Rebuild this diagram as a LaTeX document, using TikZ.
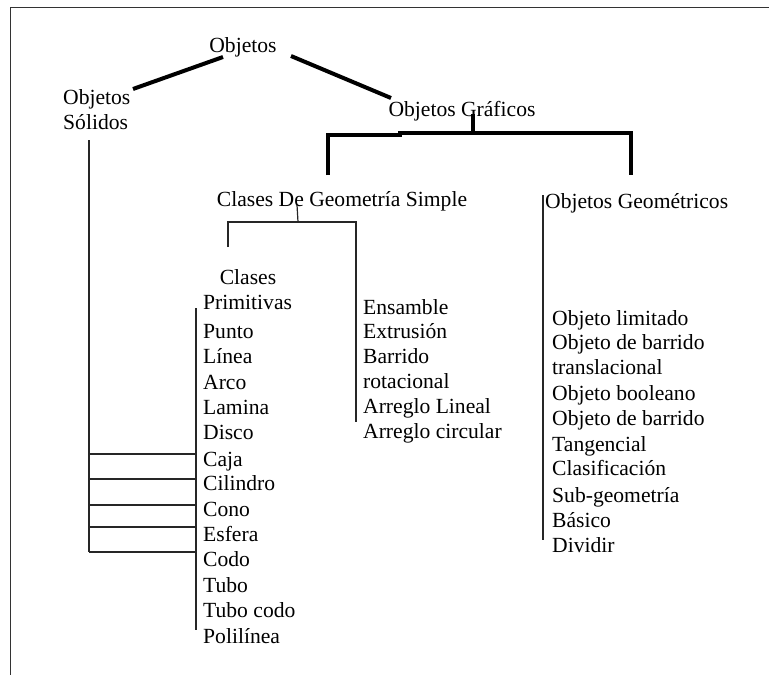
\documentclass[tikz,border=0pt]{standalone}
\usepackage{fontspec}
\setmainfont{Liberation Serif}
\begin{document}
\begin{tikzpicture}[x=1pt,y=-1pt,
  lbl/.style={inner sep=0pt,anchor=base,font=\fontsize{21.6}{25}\selectfont},
  item/.style={lbl,anchor=base west},
  heavy/.style={line width=4pt,line cap=butt,line join=miter},
  thin/.style={line width=1.2pt,draw=black!85}]
\useasboundingbox (0,0) rectangle (769,675);
% partial frame (top and left edges)
\draw[line width=1pt,black!80] (10,675) -- (10,7) -- (769,7);

% headings
\node[lbl] (obj) at (243,52) {Objetos};
\node[item,align=left] (sol) at (63,129.5) {Objetos\\Sólidos};
\node[lbl] (graf) at (462,116.5) {Objetos Gráficos};
\node[lbl] (cgs) at (342,206.5) {Clases De Geometría Simple};
\node[item] (geo) at (545,208.5) {Objetos Geométricos};

% heavy links from the root
\coordinate (r1) at (223,57);
\coordinate (r2) at (133,89);
\coordinate (r3) at (291,56);
\coordinate (r4) at (391,98);
\draw[heavy] (r1) -- (r2);
\draw[heavy] (r3) -- (r4);

% heavy bracket below Objetos Gráficos
\coordinate (g0) at (473,114);
\coordinate (gL) at (328,175);
\coordinate (gR) at (631,175);
\draw[heavy] (g0) -- (473,133);
\draw[heavy] (gL) -- (328,135) -- (400,135) -- (400,133) -- (631,133) -- (gR);

% bracket below Clases De Geometría Simple
\coordinate (c0) at (297,205);
\coordinate (cL) at (228,247);
\coordinate (cR) at (356,422);
\draw[thin] (c0) -- (298,222);
\draw[thin] (cL) -- (228,222) -- (356,222) -- (cR);

% Clases Primitivas
\node[lbl] (cp1) at (248,284.5) {Clases};
\node[item] (cp2) at (203,309.5) {Primitivas};
\node[item] (p1) at (203,338.5) {Punto};
\node[item] (p2) at (203,363.5) {Línea};
\node[item] (p3) at (203,389.5) {Arco};
\node[item] (p4) at (203,414.5) {Lamina};
\node[item] (p5) at (203,439.5) {Disco};
\node[item] (p6) at (203,466.5) {Caja};
\node[item] (p7) at (203,490.5) {Cilindro};
\node[item] (p8) at (203,516.5) {Cono};
\node[item] (p9) at (203,541.5) {Esfera};
\node[item] (p10) at (203,566.5) {Codo};
\node[item] (p11) at (203,592.5) {Tubo};
\node[item] (p12) at (203,617.5) {Tubo codo};
\node[item] (p13) at (203,643.5) {Polilínea};
\coordinate (pt) at (196,308);
\coordinate (pb) at (196,630);
\draw[thin] (pt) -- (pb);

% links from Objetos Sólidos to the solid primitives
\coordinate (s0) at (89,140);
\coordinate (s5) at (89,552);
\draw[thin] (s0) -- (s5);
\foreach \y in {454,479,505,527,552}
  \draw[thin] (89,\y) -- (196,\y);

% composite classes
\node[item] (m1) at (363,314.5) {Ensamble};
\node[item] (m2) at (363,338.5) {Extrusión};
\node[item] (m3) at (363,363.5) {Barrido};
\node[item] (m4) at (363,388.5) {rotacional};
\node[item] (m5) at (363,413.5) {Arreglo Lineal};
\node[item] (m6) at (363,438.5) {Arreglo circular};

% geometric objects
\coordinate (gt) at (543,195);
\coordinate (gb) at (543,540);
\draw[thin] (gt) -- (gb);
\node[item] (o1) at (552,325.5) {Objeto limitado};
\node[item] (o2) at (552,349.5) {Objeto de barrido};
\node[item] (o3) at (552,374.5) {translacional};
\node[item] (o4) at (552,400.5) {Objeto booleano};
\node[item] (o5) at (552,425.5) {Objeto de barrido};
\node[item] (o6) at (552,451.5) {Tangencial};
\node[item] (o7) at (552,475.5) {Clasificación};
\node[item] (o8) at (552,502.5) {Sub-geometría};
\node[item] (o9) at (552,527.5) {Básico};
\node[item] (o10) at (552,552.5) {Dividir};
\end{tikzpicture}
\end{document}
